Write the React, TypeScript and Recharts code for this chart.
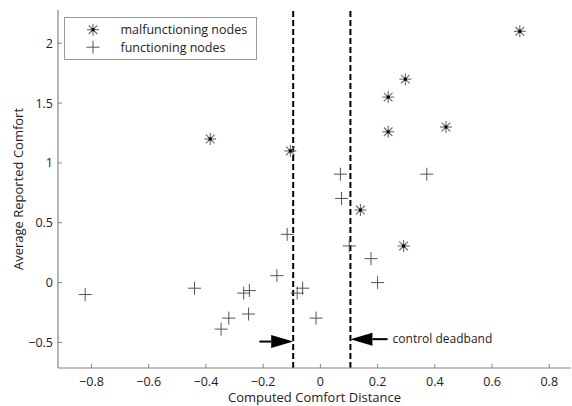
import React from 'react'
import { Legend, ReferenceDot, ReferenceLine, Scatter, ScatterChart, XAxis, YAxis } from 'recharts'

const FONT = '"Open Sans", "DejaVu Sans", sans-serif'
const AXIS = '#858585'
const TEXT = '#222'

const seriesNames = ['malfunctioning nodes', 'functioning nodes']

const xTicks = [-0.8, -0.6, -0.4, -0.2, 0, 0.2, 0.4, 0.6, 0.8]
const yTicks = [-0.5, 0, 0.5, 1, 1.5, 2]
const xDomain = [-0.917, 0.876]
const yDomain = [-0.714, 2.278]

const malfunctioningX = [-0.385, -0.105, 0.697, 0.297, 0.237, 0.237, 0.439, 0.14, 0.291]
const malfunctioningY = [1.2, 1.1, 2.1, 1.7, 1.55, 1.26, 1.3, 0.606, 0.306]

const functioningX = [
  0.07, 0.372, 0.074, 0.101, 0.177, 0.2, -0.015, -0.062, -0.116, -0.152, -0.081, -0.822, -0.44,
  -0.268, -0.248, -0.251, -0.32, -0.347,
]
const functioningY = [
  0.906, 0.906, 0.703, 0.306, 0.2, 0.0, -0.297, -0.047, 0.403, 0.058, -0.088, -0.1, -0.047, -0.088,
  -0.067, -0.263, -0.297, -0.389,
]

const deadbandLow = -0.095
const deadbandHigh = 0.105
const leftArrowStart = -0.213
const leftArrowY = -0.493
const rightArrowStart = 0.235
const rightArrowY = -0.473

const malfunctioning = malfunctioningX.map((x, i) => ({ x, y: malfunctioningY[i] }))
const functioning = functioningX.map((x, i) => ({ x, y: functioningY[i] }))

const fmt = (v: number) => {
  const s = String(Math.abs(Math.round(v * 10) / 10))
  return v < 0 ? '\u2212' + s : s
}

function Asterisk({ cx, cy }: { cx?: number; cy?: number }) {
  if (cx == null || cy == null) return null
  const r = 6
  const d = 4.3
  return (
    <g stroke="#6a6a6a" strokeWidth={1.1}>
      <line x1={cx - r} y1={cy} x2={cx + r} y2={cy} />
      <line x1={cx} y1={cy - r} x2={cx} y2={cy + r} />
      <line x1={cx - d} y1={cy - d} x2={cx + d} y2={cy + d} />
      <line x1={cx - d} y1={cy + d} x2={cx + d} y2={cy - d} />
      <rect x={cx - 1.5} y={cy - 1.5} width={3} height={3} fill="#000" stroke="none" />
    </g>
  )
}

function Plus({ cx, cy }: { cx?: number; cy?: number }) {
  if (cx == null || cy == null) return null
  const r = 6.5
  return (
    <g stroke="#555" strokeWidth={1}>
      <line x1={cx - r} y1={cy} x2={cx + r} y2={cy} />
      <line x1={cx} y1={cy - r} x2={cx} y2={cy + r} />
    </g>
  )
}

function BottomTick({ x, y, payload }: any) {
  return (
    <g>
      <line x1={x} x2={x} y1={y} y2={y - 4} stroke={AXIS} />
      <text x={x} y={y + 13} textAnchor="middle" dominantBaseline="central" fontSize={12.5} fill={TEXT} fontFamily={FONT}>
        {fmt(payload.value)}
      </text>
    </g>
  )
}

function LeftTick({ x, y, payload }: any) {
  return (
    <g>
      <line x1={x} x2={x + 4} y1={y} y2={y} stroke={AXIS} />
      <text x={x - 5} y={y} textAnchor="end" dominantBaseline="central" fontSize={12.5} fill={TEXT} fontFamily={FONT}>
        {fmt(payload.value)}
      </text>
    </g>
  )
}

function TopTick({ x, y }: any) {
  return <line x1={x} x2={x} y1={y} y2={y + 4} stroke={AXIS} />
}

function RightTick({ x, y }: any) {
  return <line x1={x} x2={x - 4} y1={y} y2={y} stroke={AXIS} />
}

function Arrow({ x1, y1, x2, y2 }: any) {
  const dir = Math.sign(x2 - x1)
  const head = 22
  const half = 6.5
  return (
    <g>
      <line x1={x1} y1={y1} x2={x2 - dir * head} y2={y2} stroke="#000" strokeWidth={2} />
      <polygon points={`${x2},${y2} ${x2 - dir * head},${y2 - half} ${x2 - dir * head},${y2 + half}`} fill="#000" />
    </g>
  )
}

function LegendBox({ payload }: any) {
  const items = [...(payload ?? [])].sort(
    (a: any, b: any) => seriesNames.indexOf(a.value) - seriesNames.indexOf(b.value),
  )
  return (
    <svg width={193} height={43} style={{ display: 'block' }}>
      <rect x={0.5} y={0.5} width={192} height={42} fill="#fff" stroke="#999" />
      {items.map((item: any, i: number) => {
        const cy = 12.7 + i * 17.5
        return (
          <g key={item.value}>
            {item.value === seriesNames[0] ? <Asterisk cx={29} cy={cy} /> : <Plus cx={29} cy={cy} />}
            <text x={56.5} y={cy} dominantBaseline="central" fontSize={12.5} fill={TEXT} fontFamily={FONT}>
              {item.value}
            </text>
          </g>
        )
      })}
    </svg>
  )
}

export default function App() {
  return (
    <div style={{ position: 'absolute', left: 0, top: 0, width: 572, height: 406, background: '#fff' }}>
      <ScatterChart width={572} height={406} margin={{ top: 10, right: 1, bottom: 0, left: 0 }}>
        <XAxis
          type="number"
          dataKey="x"
          xAxisId="bottom"
          domain={xDomain}
          ticks={xTicks}
          allowDataOverflow
          height={38}
          tickSize={0}
          tickMargin={0}
          tick={<BottomTick />}
          axisLine={{ stroke: AXIS, strokeWidth: 1.2 }}
          label={({ viewBox }: any) => (
            <text
              x={viewBox.x + viewBox.width / 2}
              y={viewBox.y + 29}
              textAnchor="middle"
              dominantBaseline="central"
              fontSize={13}
              fill={TEXT}
              fontFamily={FONT}
            >
              Computed Comfort Distance
            </text>
          )}
        />
        <XAxis
          type="number"
          dataKey="x"
          xAxisId="top"
          orientation="top"
          domain={xDomain}
          ticks={xTicks}
          allowDataOverflow
          height={0}
          tickSize={0}
          tickMargin={0}
          tick={<TopTick />}
          axisLine={{ stroke: AXIS, strokeWidth: 1.2 }}
        />
        <YAxis
          type="number"
          dataKey="y"
          yAxisId="left"
          domain={yDomain}
          ticks={yTicks}
          allowDataOverflow
          width={58}
          tickSize={0}
          tickMargin={0}
          tick={<LeftTick />}
          axisLine={{ stroke: AXIS, strokeWidth: 1.2 }}
          label={({ viewBox }: any) => {
            const cx = 18
            const cy = viewBox.y + viewBox.height / 2
            return (
              <text
                x={cx}
                y={cy}
                transform={`rotate(-90 ${cx} ${cy})`}
                textAnchor="middle"
                dominantBaseline="central"
                fontSize={13}
                fill={TEXT}
                fontFamily={FONT}
              >
                Average Reported Comfort
              </text>
            )
          }}
        />
        <YAxis
          type="number"
          dataKey="y"
          yAxisId="right"
          orientation="right"
          domain={yDomain}
          ticks={yTicks}
          allowDataOverflow
          width={0}
          tickSize={0}
          tickMargin={0}
          tick={<RightTick />}
          axisLine={{ stroke: AXIS, strokeWidth: 1.2 }}
        />

        <ReferenceLine
          x={deadbandLow}
          xAxisId="bottom"
          yAxisId="left"
          stroke="#000"
          strokeWidth={2}
          strokeDasharray="6 3"
        />
        <ReferenceLine
          x={deadbandHigh}
          xAxisId="bottom"
          yAxisId="left"
          stroke="#000"
          strokeWidth={2}
          strokeDasharray="6 3"
        />
        <ReferenceLine
          xAxisId="bottom"
          yAxisId="left"
          segment={[
            { x: leftArrowStart, y: leftArrowY },
            { x: deadbandLow, y: leftArrowY },
          ]}
          shape={<Arrow />}
        />
        <ReferenceLine
          xAxisId="bottom"
          yAxisId="left"
          segment={[
            { x: rightArrowStart, y: rightArrowY },
            { x: deadbandHigh, y: rightArrowY },
          ]}
          shape={<Arrow />}
        />
        <ReferenceDot
          xAxisId="bottom"
          yAxisId="left"
          x={rightArrowStart}
          y={rightArrowY}
          r={0}
          fill="none"
          stroke="none"
          label={{
            value: 'control deadband',
            position: 'right',
            offset: 5,
            fontSize: 12,
            fill: TEXT,
            fontFamily: FONT,
          }}
        />

        <Scatter
          name={seriesNames[0]}
          data={malfunctioning}
          xAxisId="bottom"
          yAxisId="left"
          shape={<Asterisk />}
          legendType="star"
          isAnimationActive={false}
        />
        <Scatter
          name={seriesNames[1]}
          data={functioning}
          xAxisId="bottom"
          yAxisId="left"
          shape={<Plus />}
          legendType="cross"
          isAnimationActive={false}
        />

        <Legend
          layout="vertical"
          align="center"
          verticalAlign="middle"
          content={<LegendBox />}
          wrapperStyle={{ left: 64, top: 17, width: 193, height: 43 }}
        />
      </ScatterChart>
    </div>
  )
}
